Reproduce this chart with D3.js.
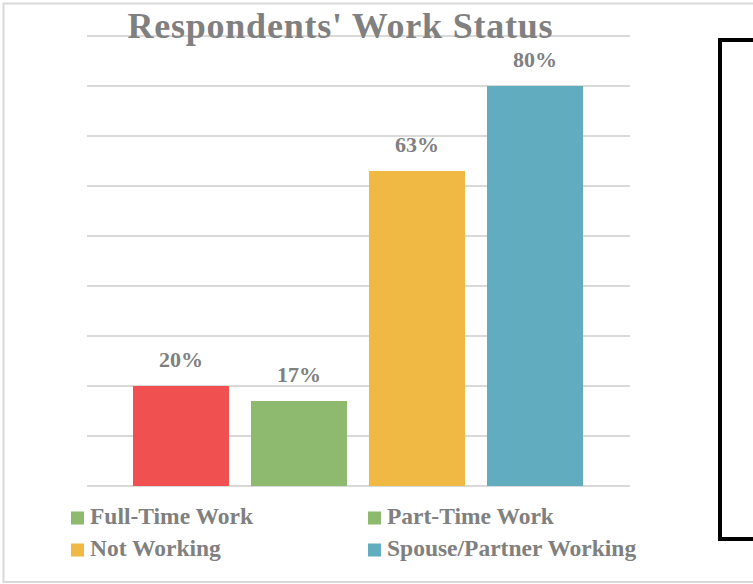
<!DOCTYPE html>
<html>
<head>
<meta charset="utf-8">
<script src="https://cdn.jsdelivr.net/npm/d3@7"></script>
<style>
  html, body { margin: 0; padding: 0; background: #fff; }
  svg { display: block; }
</style>
</head>
<body>
<svg id="chart" width="753" height="584"></svg>
<script>
const categories = ["Full-Time Work", "Part-Time Work", "Not Working", "Spouse/Partner Working"];
const values = [20, 17, 63, 80];
const barColors = ["#F0504F", "#8DBA6E", "#EFB944", "#62ACC0"];
const legendLabels = ["Full-Time Work", "Part-Time Work", "Not Working", "Spouse/Partner Working"];
const legendColors = ["#8DBA6E", "#8DBA6E", "#EFB944", "#62ACC0"];
const gridTicks = [0, 10, 20, 30, 40, 50, 60, 70, 80, 90];
const title = "Respondents' Work Status";

const svg = d3.select("#chart");
const serif = "'Liberation Serif', 'DejaVu Serif', serif";
const gray = "#808080";

// outer frame
svg.append("rect").attr("x", 3.5).attr("y", 3.5).attr("width", 760).attr("height", 578.5)
  .attr("fill", "none").attr("stroke", "#d9d9d9").attr("stroke-width", 2);

const y = d3.scaleLinear().domain([0, 90]).range([486, 36]);
const x = d3.scaleBand().domain(categories).range([122, 594]).paddingInner(22/118).paddingOuter(11/118);

// gridlines
svg.append("g").selectAll("line").data(gridTicks).join("line")
  .attr("x1", 87).attr("x2", 630)
  .attr("y1", d => y(d)).attr("y2", d => y(d))
  .attr("stroke", "#d9d9d9").attr("stroke-width", 2);

// bars
svg.append("g").selectAll("rect").data(values).join("rect")
  .attr("x", (d, i) => x(categories[i]))
  .attr("width", x.bandwidth())
  .attr("y", d => y(d))
  .attr("height", d => y(0) - y(d))
  .attr("fill", (d, i) => barColors[i]);

// value labels
svg.append("g").selectAll("text").data(values).join("text")
  .attr("x", (d, i) => x(categories[i]) + x.bandwidth() / 2)
  .attr("y", d => y(d) - 19)
  .attr("text-anchor", "middle")
  .attr("font-family", serif).attr("font-weight", "bold").attr("font-size", 22)
  .attr("fill", gray)
  .text(d => d + "%");

// title
svg.append("text").attr("x", 340).attr("y", 38)
  .attr("text-anchor", "middle")
  .attr("font-family", serif).attr("font-weight", "bold").attr("font-size", 36)
  .attr("textLength", 425).attr("lengthAdjust", "spacing")
  .attr("fill", gray)
  .text(title);

// legend
const legPos = [[71, 524], [368, 524], [71, 556], [368, 556]];
const leg = svg.append("g").selectAll("g").data(legendLabels).join("g")
  .attr("transform", (d, i) => `translate(${legPos[i][0]},${legPos[i][1]})`);
leg.append("rect").attr("x", 0).attr("y", -12.5).attr("width", 13).attr("height", 13)
  .attr("fill", (d, i) => legendColors[i]);
leg.append("text").attr("x", 19).attr("y", 0)
  .attr("font-family", serif).attr("font-weight", "bold").attr("font-size", 23.5)
  .attr("fill", gray)
  .text(d => d);

// black box on right
svg.append("rect").attr("x", 720).attr("y", 40).attr("width", 60).attr("height", 499)
  .attr("fill", "none").attr("stroke", "#000").attr("stroke-width", 4);
</script>
</body>
</html>
